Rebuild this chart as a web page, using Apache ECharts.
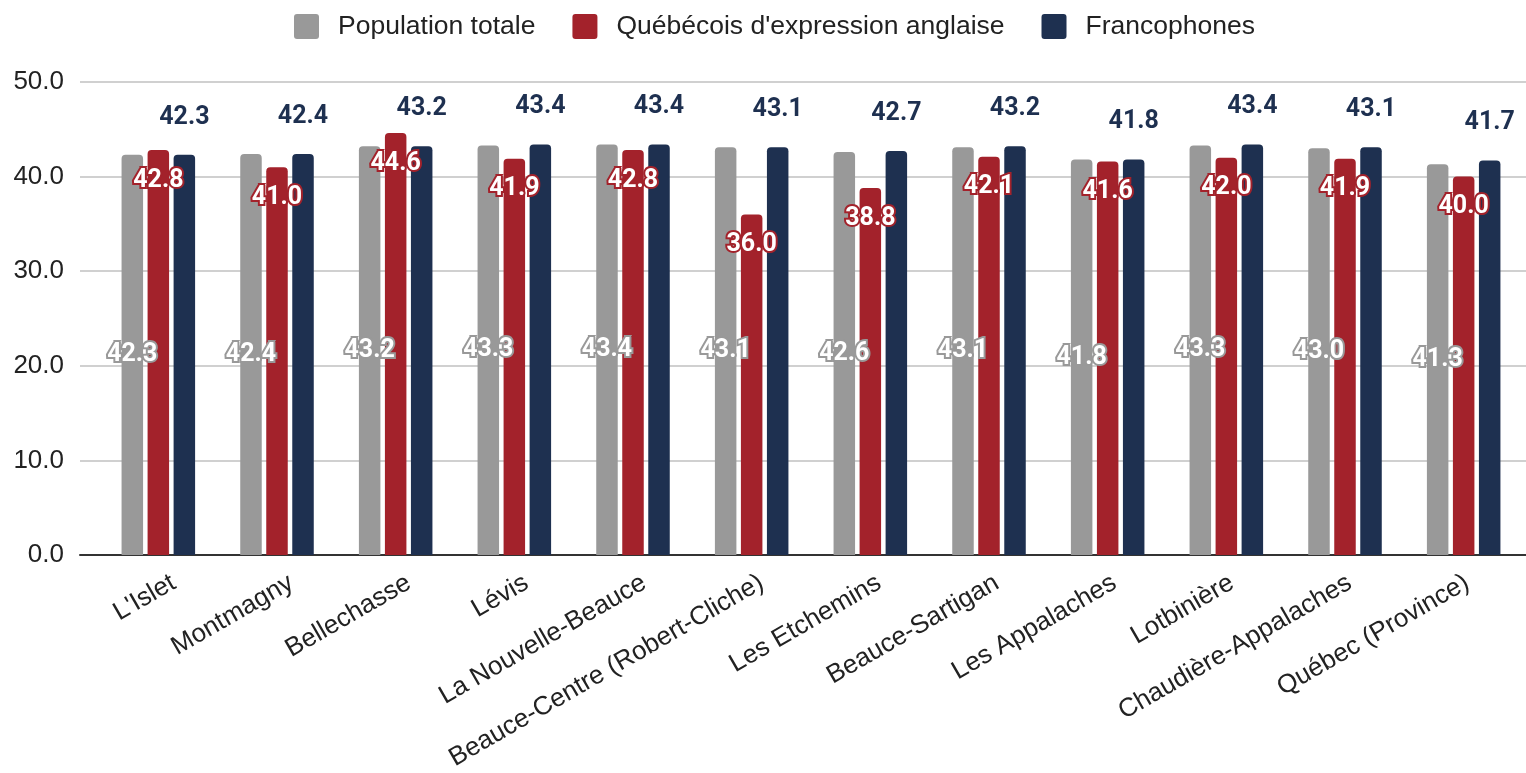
<!DOCTYPE html>
<html>
<head>
<meta charset="utf-8">
<script src="https://cdn.jsdelivr.net/npm/echarts@6/dist/echarts.min.js"></script>
<style>html,body{margin:0;padding:0;background:#fff;}#c{width:1526px;height:773px;}</style>
</head>
<body>
<div id="c"></div>
<script>
const categories = ["L'Islet","Montmagny","Bellechasse","Lévis","La Nouvelle-Beauce","Beauce-Centre (Robert-Cliche)","Les Etchemins","Beauce-Sartigan","Les Appalaches","Lotbinière","Chaudière-Appalaches","Québec (Province)"];
const seriesNames = ["Population totale","Québécois d'expression anglaise","Francophones"];
const populationTotale = [42.3,42.4,43.2,43.3,43.4,43.1,42.6,43.1,41.8,43.3,43.0,41.3];
const anglophones = [42.8,41.0,44.6,41.9,42.8,36.0,38.8,42.1,41.6,42.0,41.9,40.0];
const francophones = [42.3,42.4,43.2,43.4,43.4,43.1,42.7,43.2,41.8,43.4,43.1,41.7];
const yTicks = {min:0, max:50, interval:10};

const GRAY='#999999', RED='#a3222b', NAVY='#1e3050';
const chart = echarts.init(document.getElementById('c'));
const fmt = p => p.value.toFixed(1);
const labelFont = {fontFamily:'Roboto', fontWeight:'bold', fontSize:25};
const sq = 'path://M3,0 H22 A3,3 0 0 1 25,3 V22 A3,3 0 0 1 22,25 H3 A3,3 0 0 1 0,22 V3 A3,3 0 0 1 3,0 Z';
chart.setOption({
  animation:false,
  legend:{
    top:8, left:289, itemWidth:25, itemHeight:25, itemGap:37, icon:sq,
    textStyle:{fontFamily:'Liberation Sans', fontSize:26.5, color:'#222', padding:[0,0,0,14]},
    data:seriesNames
  },
  grid:[
    {left:80, right:0, top:82, bottom:218},
    {left:99, width:1424, top:82, bottom:218},
    {left:115, width:1424, top:82, bottom:218}
  ],
  xAxis:[
    {gridIndex:0, type:'value', min:0, max:1, axisLine:{show:true, lineStyle:{color:'#333', width:2}}, axisTick:{show:false}, axisLabel:{show:false}, splitLine:{show:false}},
    {gridIndex:1, type:'category', data:categories, axisLine:{show:false}, axisTick:{show:false}, axisLabel:{show:false}},
    {gridIndex:2, type:'category', data:categories, axisLine:{show:false}, axisTick:{show:false},
     axisLabel:{rotate:30, interval:0, margin:29, fontFamily:'Liberation Sans', fontSize:26, color:'#222'}}
  ],
  yAxis:[
    {gridIndex:0, type:'value', min:yTicks.min, max:yTicks.max, interval:yTicks.interval,
     axisLine:{show:false}, axisTick:{show:false},
     axisLabel:{margin:16, fontFamily:'Liberation Sans', fontSize:26, color:'#222', formatter:v=>v.toFixed(1)},
     splitLine:{lineStyle:{color:'#d0d0d0', width:2}}},
    {gridIndex:1, type:'value', min:yTicks.min, max:yTicks.max, interval:yTicks.interval, show:false, splitLine:{show:false}},
    {gridIndex:2, type:'value', min:yTicks.min, max:yTicks.max, interval:yTicks.interval, show:false, splitLine:{show:false}}
  ],
  series:[
    {name:seriesNames[0], type:'bar', xAxisIndex:1, yAxisIndex:1, data:populationTotale, barWidth:21.5, barGap:'21%',
     itemStyle:{color:GRAY, borderRadius:[4,4,0,0]},
     label:Object.assign({show:true, position:'inside', color:'#fff', textBorderColor:GRAY, textBorderWidth:4, formatter:fmt}, labelFont)},
    {name:seriesNames[1], type:'bar', xAxisIndex:1, yAxisIndex:1, data:anglophones, barWidth:21.5, barGap:'21%',
     itemStyle:{color:RED, borderRadius:[4,4,0,0]},
     label:Object.assign({show:true, position:'insideTop', distance:18, color:'#fff', textBorderColor:RED, textBorderWidth:4, formatter:fmt}, labelFont)},
    {name:seriesNames[2], type:'bar', xAxisIndex:1, yAxisIndex:1, data:francophones, barWidth:21.5, barGap:'21%',
     itemStyle:{color:NAVY, borderRadius:[4,4,0,0]},
     label:Object.assign({show:true, position:'top', distance:25, color:NAVY, formatter:fmt}, labelFont)}
  ]
});
</script>
</body>
</html>
